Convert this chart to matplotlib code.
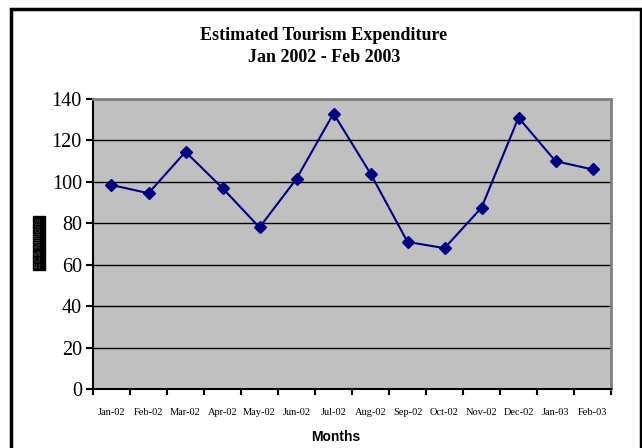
import matplotlib
matplotlib.use('Agg')
import numpy as np
from matplotlib import pyplot as plt
from matplotlib.patches import Rectangle

# Monthly estimated expenditure
months = ['Jan-02', 'Feb-02', 'Mar-02', 'Apr-02', 'May-02', 'Jun-02', 'Jul-02',
          'Aug-02', 'Sep-02', 'Oct-02', 'Nov-02', 'Dec-02', 'Jan-03', 'Feb-03']
expenditure = [98.5, 94.5, 114.5, 97, 78, 101.5, 133, 104, 71, 68, 87.5, 131, 110, 106]
y_ticks = [0, 20, 40, 60, 80, 100, 120, 140]

W, H = 642, 448
fig = plt.figure(figsize=(W / 100, H / 100), dpi=100)

# axes box in pixel coordinates
left, right, top, bottom = 93, 611, 99, 389
ax = fig.add_axes([left / W, 1 - bottom / H, (right - left) / W, (bottom - top) / H])
ax.set_facecolor('#C0C0C0')

x = np.arange(len(months))
ax.plot(x, expenditure, color='#000080', lw=1.5, marker='D', ms=6.5,
        mfc='#000080', mec='#000080', zorder=3)

ax.set_xlim(-0.5, len(months) - 0.5)
ax.set_ylim(0, 140)

# y axis
ax.set_yticks(y_ticks)
ax.set_yticklabels([str(v) for v in y_ticks], fontfamily='Liberation Serif', fontsize=14.5)
ax.tick_params(axis='y', direction='out', length=5, width=1.5, pad=3)
ax.yaxis.grid(True, color='black', lw=1)
ax.set_axisbelow(True)

# x axis: tick marks between categories, labels at centres
ax.set_xticks(np.arange(len(months) + 1) - 0.5)
ax.set_xticklabels([])
ax.tick_params(axis='x', which='major', direction='out', length=4, width=1.5)
ax.set_xticks(x, minor=True)
ax.set_xticklabels(months, minor=True, fontfamily='Liberation Serif', fontsize=7.5)
ax.tick_params(axis='x', which='minor', length=0, pad=14)

for side in ['left', 'bottom']:
    ax.spines[side].set_color('black')
    ax.spines[side].set_linewidth(1.5)
for side in ['top', 'right']:
    ax.spines[side].set_color('#808080')
    ax.spines[side].set_linewidth(2)

# title
title_font = dict(ha='center', va='center', fontfamily='Liberation Serif',
                  fontweight='heavy', fontsize=13)
fig.text(324 / W, 1 - 35 / H, 'Estimated Tourism Expenditure', **title_font)
fig.text(324 / W, 1 - 58 / H, 'Jan 2002 - Feb 2003', **title_font)

# axis labels
fig.text(336 / W, 1 - 437 / H, 'Months', ha='center', va='center',
         fontfamily='Liberation Sans', fontweight='bold', fontsize=10)
fig.text(39 / W, 1 - 243 / H, 'EC$ Millions', ha='center', va='center', rotation=90,
         fontfamily='Liberation Sans', fontsize=6.5, color='#404040',
         bbox=dict(boxstyle='square,pad=0.2', fc='black', ec='black'))

# outer chart frame
fig.patches.append(Rectangle((11.5 / W, -0.05), (640.5 - 11.5) / W, 1.05 - 9 / H,
                             transform=fig.transFigure, fill=False, ec='black', lw=2.5))

fig.savefig('out.png', dpi=100)
